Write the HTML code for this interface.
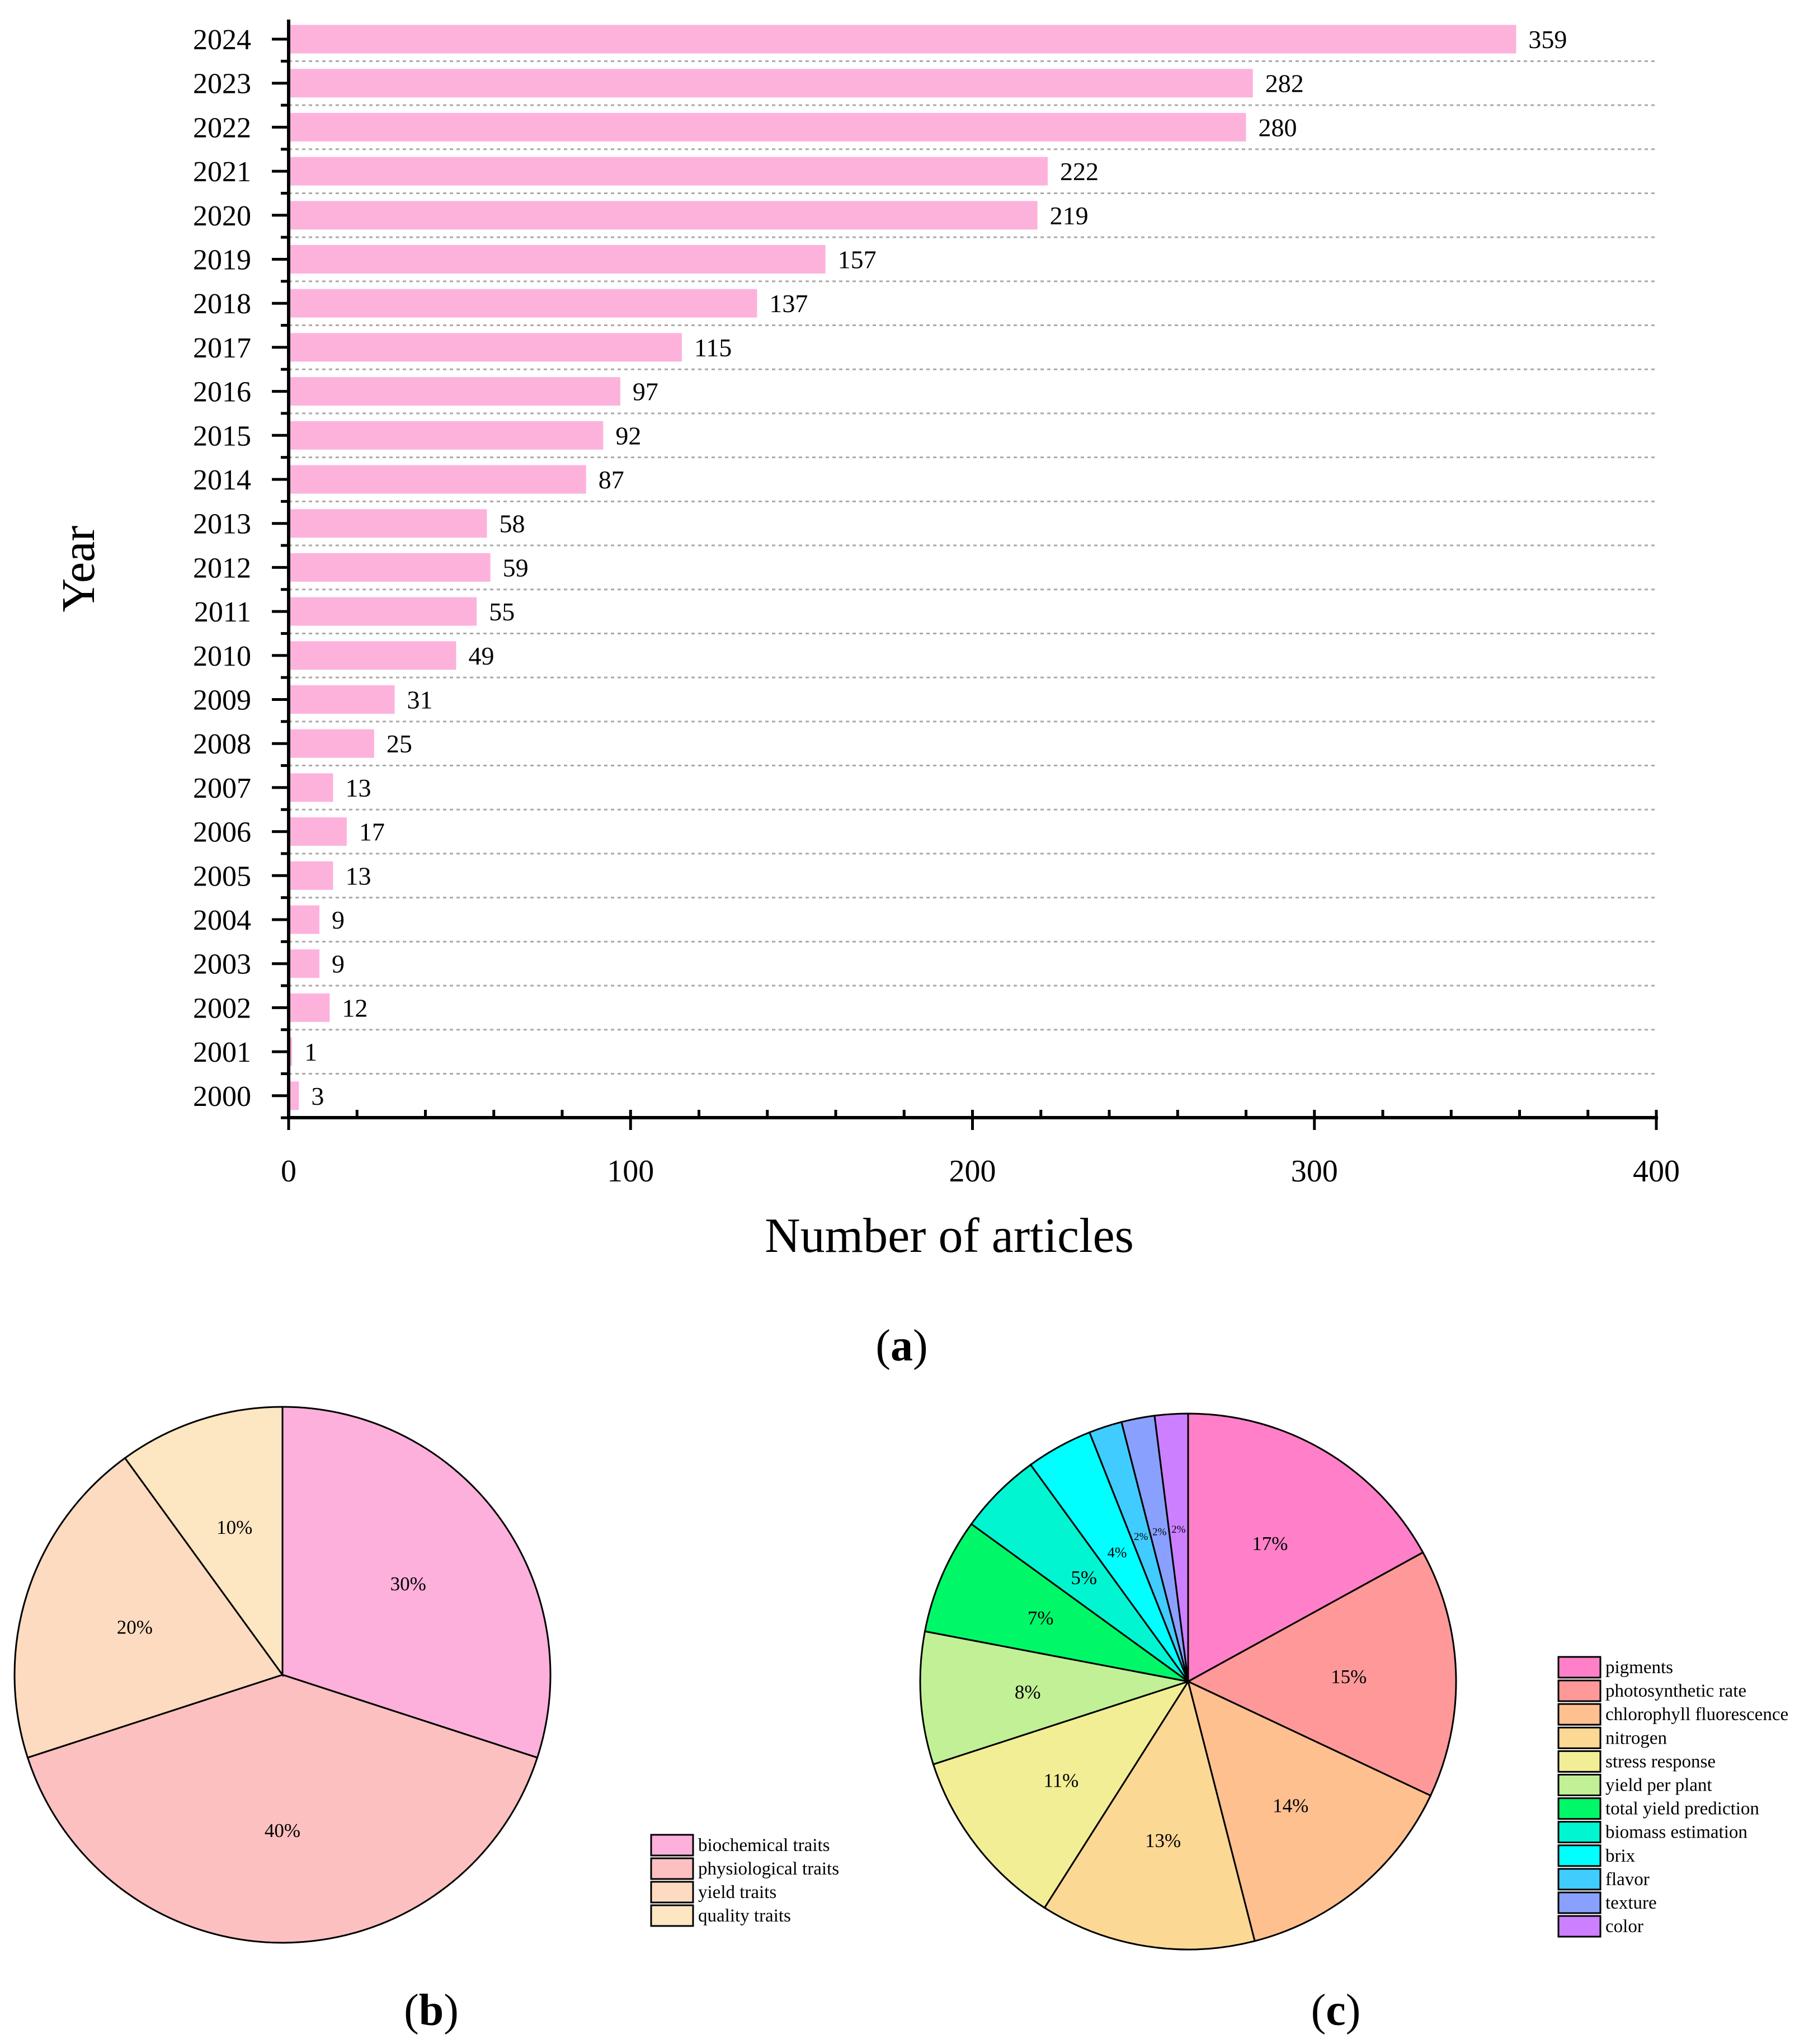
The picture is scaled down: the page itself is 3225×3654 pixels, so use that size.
<!DOCTYPE html>
<html><head><meta charset="utf-8"><style>
html,body{margin:0;padding:0;background:#fff;}
svg{display:block;font-family:"Liberation Serif",serif;}
</style></head><body>
<svg id="root" width="3225" height="3654" viewBox="0 0 3225 3654" xmlns="http://www.w3.org/2000/svg">
<g id="bar"></g>
<g id="pieb"></g>
<g id="piec"></g>
<text x="1612" y="2432" font-size="80" text-anchor="middle">(<tspan font-weight="bold">a</tspan>)</text>
<text x="771" y="3620" font-size="80" text-anchor="middle">(<tspan font-weight="bold">b</tspan>)</text>
<text x="2388" y="3620" font-size="80" text-anchor="middle">(<tspan font-weight="bold">c</tspan>)</text>
</svg>
<script>
const years = ["2024","2023","2022","2021","2020","2019","2018","2017","2016","2015","2014","2013","2012","2011","2010","2009","2008","2007","2006","2005","2004","2003","2002","2001","2000"];
const counts = [359,282,280,222,219,157,137,115,97,92,87,58,59,55,49,31,25,13,17,13,9,9,12,1,3];
const xTicks = [0,100,200,300,400];
const pieBLabels = ["biochemical traits","physiological traits","yield traits","quality traits"];
const pieBValues = [30,40,20,10];
const pieCLabels = ["pigments","photosynthetic rate","chlorophyll fluorescence","nitrogen","stress response","yield per plant","total yield prediction","biomass estimation","brix","flavor","texture","color"];
const pieCValues = [17,15,14,13,11,8,7,5,4,2,2,2];

const NS="http://www.w3.org/2000/svg";
function mk(tag,attrs,parent,text){const e=document.createElementNS(NS,tag);for(const k in attrs)e.setAttribute(k,attrs[k]);if(text!==undefined)e.textContent=text;parent.appendChild(e);return e;}

// ---- bar chart ----
const bar=document.getElementById('bar');
const X0=516,X1=2961,Ytop=35,Yaxis=1998,firstC=70,step=78.7,bh=51,xmax=400;
const xs=v=>X0+(X1-X0)*v/xmax;
const yc=i=>firstC+i*step;
years.forEach((y,i)=>{
  if(i<years.length-1){
    const g=mk('line',{x1:X0,x2:X1,y1:yc(i)+step/2,y2:yc(i)+step/2,stroke:'#aaa','stroke-width':3,'stroke-dasharray':'6,6'},bar);
    
    
  }
  const r=mk('rect',{x:X0,y:yc(i)-bh/2,width:xs(counts[i])-X0,height:bh,fill:'#FDB2DC'},bar);
  
  
  const v=mk('text',{x:xs(counts[i])+22,y:yc(i)+16,'font-size':46},bar,String(counts[i]));
  
  
  const t=mk('text',{x:449,y:yc(i)+18,'font-size':52,'text-anchor':'end'},bar,y);
  
  
  const tk=mk('line',{x1:X0-30,x2:X0,y1:yc(i),y2:yc(i),stroke:'#000','stroke-width':5},bar);
  
  
  const mt=mk('line',{x1:X0-14,x2:X0,y1:yc(i)+step/2,y2:yc(i)+step/2,stroke:'#000','stroke-width':5},bar);
  
  
});
const ya=mk('line',{x1:X0,x2:X0,y1:Ytop,y2:Yaxis,stroke:'#000','stroke-width':6},bar);


const xa=mk('line',{x1:X0-3,x2:X1+3,y1:Yaxis,y2:Yaxis,stroke:'#000','stroke-width':6},bar);


for(let v=0;v<=xmax;v+=20){
  const major=xTicks.includes(v);
  const l=mk('line',{x1:xs(v),x2:xs(v),y1:Yaxis-14,y2:major?Yaxis+22:Yaxis,stroke:'#000','stroke-width':5},bar);
  
  
}
xTicks.forEach(v=>{
  const t=mk('text',{x:xs(v),y:2112,'font-size':56,'text-anchor':'middle'},bar,String(v));
  
  
});
const xt=mk('text',{x:1697,y:2238,'font-size':88,'text-anchor':'middle'},bar,'Number of articles');


const yt=mk('text',{x:0,y:0,'font-size':84,'text-anchor':'middle',transform:'translate(168,1017) rotate(-90)'},bar,'Year');



// ---- pies ----
function pie(gid,cx,cy,R,vals,labels,colors,lx,ly,lstep,fontFn,radFn){
  const g=document.getElementById(gid);
  const tot=vals.reduce((a,b)=>a+b,0);
  let a=0;
  vals.forEach((v,i)=>{
    const a0=a,a1=a+v/tot*2*Math.PI;a=a1;
    const p0=[cx+R*Math.sin(a0),cy-R*Math.cos(a0)],p1=[cx+R*Math.sin(a1),cy-R*Math.cos(a1)];
    const large=(a1-a0)>Math.PI?1:0;
    const s=mk('path',{d:`M${cx},${cy} L${p0[0]},${p0[1]} A${R},${R} 0 ${large} 1 ${p1[0]},${p1[1]} Z`,fill:colors[i],stroke:'#000','stroke-width':3},g);
    
    
    const am=(a0+a1)/2,rr=R*radFn(v);
    const fs=fontFn(v);
    const t=mk('text',{x:cx+rr*Math.sin(am),y:cy-rr*Math.cos(am)+fs*0.35,'font-size':fs,'text-anchor':'middle'},g,v+'%');
    
    
  });
  labels.forEach((l,i)=>{
    const y=ly+i*lstep;
    const b=mk('rect',{x:lx,y:y-18,width:75,height:37,fill:colors[i],stroke:'#000','stroke-width':3},g);
    
    
    const t=mk('text',{x:lx+84,y:y+11,'font-size':33},g,l);
    
    
  });
}
pie('pieb',505,2994,479,pieBValues,pieBLabels,['#FDB0DB','#FCC0C0','#FDDBC0','#FDE6C2'],1164,3298,42,v=>35,v=>0.58);
pie('piec',2124,3006,479,pieCValues,pieCLabels,['#FF80C8','#FF9999','#FFC090','#FCD895','#F2EE96','#C2F096','#00F868','#00F5D0','#00FFFF','#40CCFF','#8AA0FF','#CC80FF'],2786,2980,42.1,v=>v<=2?19:(v<=4?26:35),v=>v<=2?0.57:(v<=5?0.55:0.6));
</script>
</body></html>
